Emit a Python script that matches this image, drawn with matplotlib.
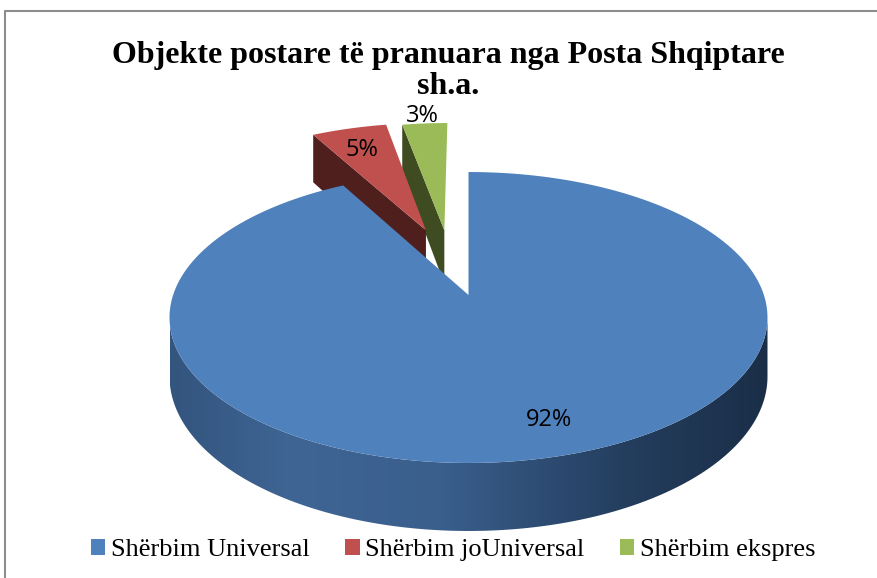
import numpy as np
import matplotlib
matplotlib.use('Agg')
import matplotlib.pyplot as plt
from matplotlib.patches import Polygon, Patch
from matplotlib.colors import LinearSegmentedColormap

labels = ['Shërbim Universal', 'Shërbim joUniversal', 'Shërbim ekspres']
shares = [92, 5, 3]
pct_labels = ['92%', '5%', '3%']
title = 'Objekte postare të pranuara nga Posta Shqiptare\nsh.a.'

top_colors = ['#4f81bd', '#c0504d', '#9bbb59']
side_colors = ['#2c4a6e', '#4f1f1e', '#3f4b21']
explode_u = [0, -0.155, -0.088]
explode_v = [0, 0.49, 0.49]

# pie disc -> picture pixels, perspective tilt
X0, Y0 = 468.5, 295
A, B, K, DEPTH = 295.4, 142, 0.1546, 57.5


def project(u, v, down=0):
    s = 1 + K * v
    return X0 + A * u / s, Y0 - B * v / s + down * DEPTH / s


def arc(t1, t2, du=0, dv=0, down=0):
    t = np.radians(np.linspace(t1, t2, 200))
    x, y = project(np.sin(t) + du, np.cos(t) + dv, down)
    return np.column_stack([x, y])


fig = plt.figure(figsize=(8.78, 5.78), dpi=100)
ax = fig.add_axes([0, 0, 1, 1])
ax.set_xlim(0, 878)
ax.set_ylim(578, 0)
ax.axis('off')

# frame of the chart, only top and left show
ax.plot([5, 5, 878], [578, 10.5, 10.5], color='#8c8c8c', lw=1.5, zorder=1)

angles = np.cumsum([0] + shares) * 3.6

# back slices first, red goes over green
for i in [2, 1]:
    du, dv = explode_u[i], explode_v[i]
    t1, t2 = angles[i], angles[i + 1]
    apex = np.array(project(du, dv))
    apex_low = np.array(project(du, dv, 1))
    outer = arc(t1, t1, du, dv)[0]
    outer_low = arc(t1, t1, du, dv, 1)[0]
    ax.add_patch(Polygon([apex, outer, outer_low, apex_low], fc=side_colors[i], ec='none', zorder=2 + (2 - i)))
    ax.add_patch(Polygon(np.vstack([[apex], arc(t1, t2, du, dv)]), fc=top_colors[i], ec='none', zorder=2 + (2 - i)))

# blue outer wall with the horizontal shading
t_edge = np.degrees(np.arcsin(K))
front = arc(90 + t_edge, 270 - t_edge)
front_low = arc(90 + t_edge, 270 - t_edge, down=1)
wall = Polygon(np.vstack([front, front_low[::-1]]), fc='none', ec='none', zorder=5)
ax.add_patch(wall)
cmap = LinearSegmentedColormap.from_list('wall', [(0, '#33557e'), (0.2, '#3f6594'), (0.45, '#3a5f8d'),
                                                  (0.75, '#253f60'), (1, '#1a2e47')])
im = ax.imshow(np.linspace(0, 1, 300).reshape(1, -1), cmap=cmap, aspect='auto', zorder=5,
               extent=[front[:, 0].min(), front[:, 0].max(), 578, 0])
im.set_clip_path(wall)
ax.set_xlim(0, 878)
ax.set_ylim(578, 0)

t1, t2 = angles[0], angles[1]
ax.add_patch(Polygon(np.vstack([[project(0, 0)], arc(t1, t2)]), fc=top_colors[0], ec='none', zorder=6))

ax.text(549, 420, pct_labels[0], ha='center', va='center', family='Open Sans', fontsize=17, color='black', zorder=7)
ax.text(362, 150, pct_labels[1], ha='center', va='center', family='Open Sans', fontsize=17, color='black', zorder=7)
ax.text(422, 116, pct_labels[2], ha='center', va='center', family='Open Sans', fontsize=17, color='black', zorder=7)

ax.text(448, 71, title, ha='center', va='center', family='Liberation Serif', fontweight='bold',
        fontsize=23, linespacing=1.08, zorder=8)

handles = [Patch(fc=c, ec='none') for c in top_colors]
ax.legend(handles, labels, ncol=3, loc='center', bbox_to_anchor=(453 / 878, 1 - 550 / 578), frameon=False,
          prop={'family': 'Liberation Serif', 'size': 19}, handlelength=0.55, handleheight=0.55,
          handletextpad=0.2, columnspacing=1.35)

fig.savefig('out.png', dpi=100)
